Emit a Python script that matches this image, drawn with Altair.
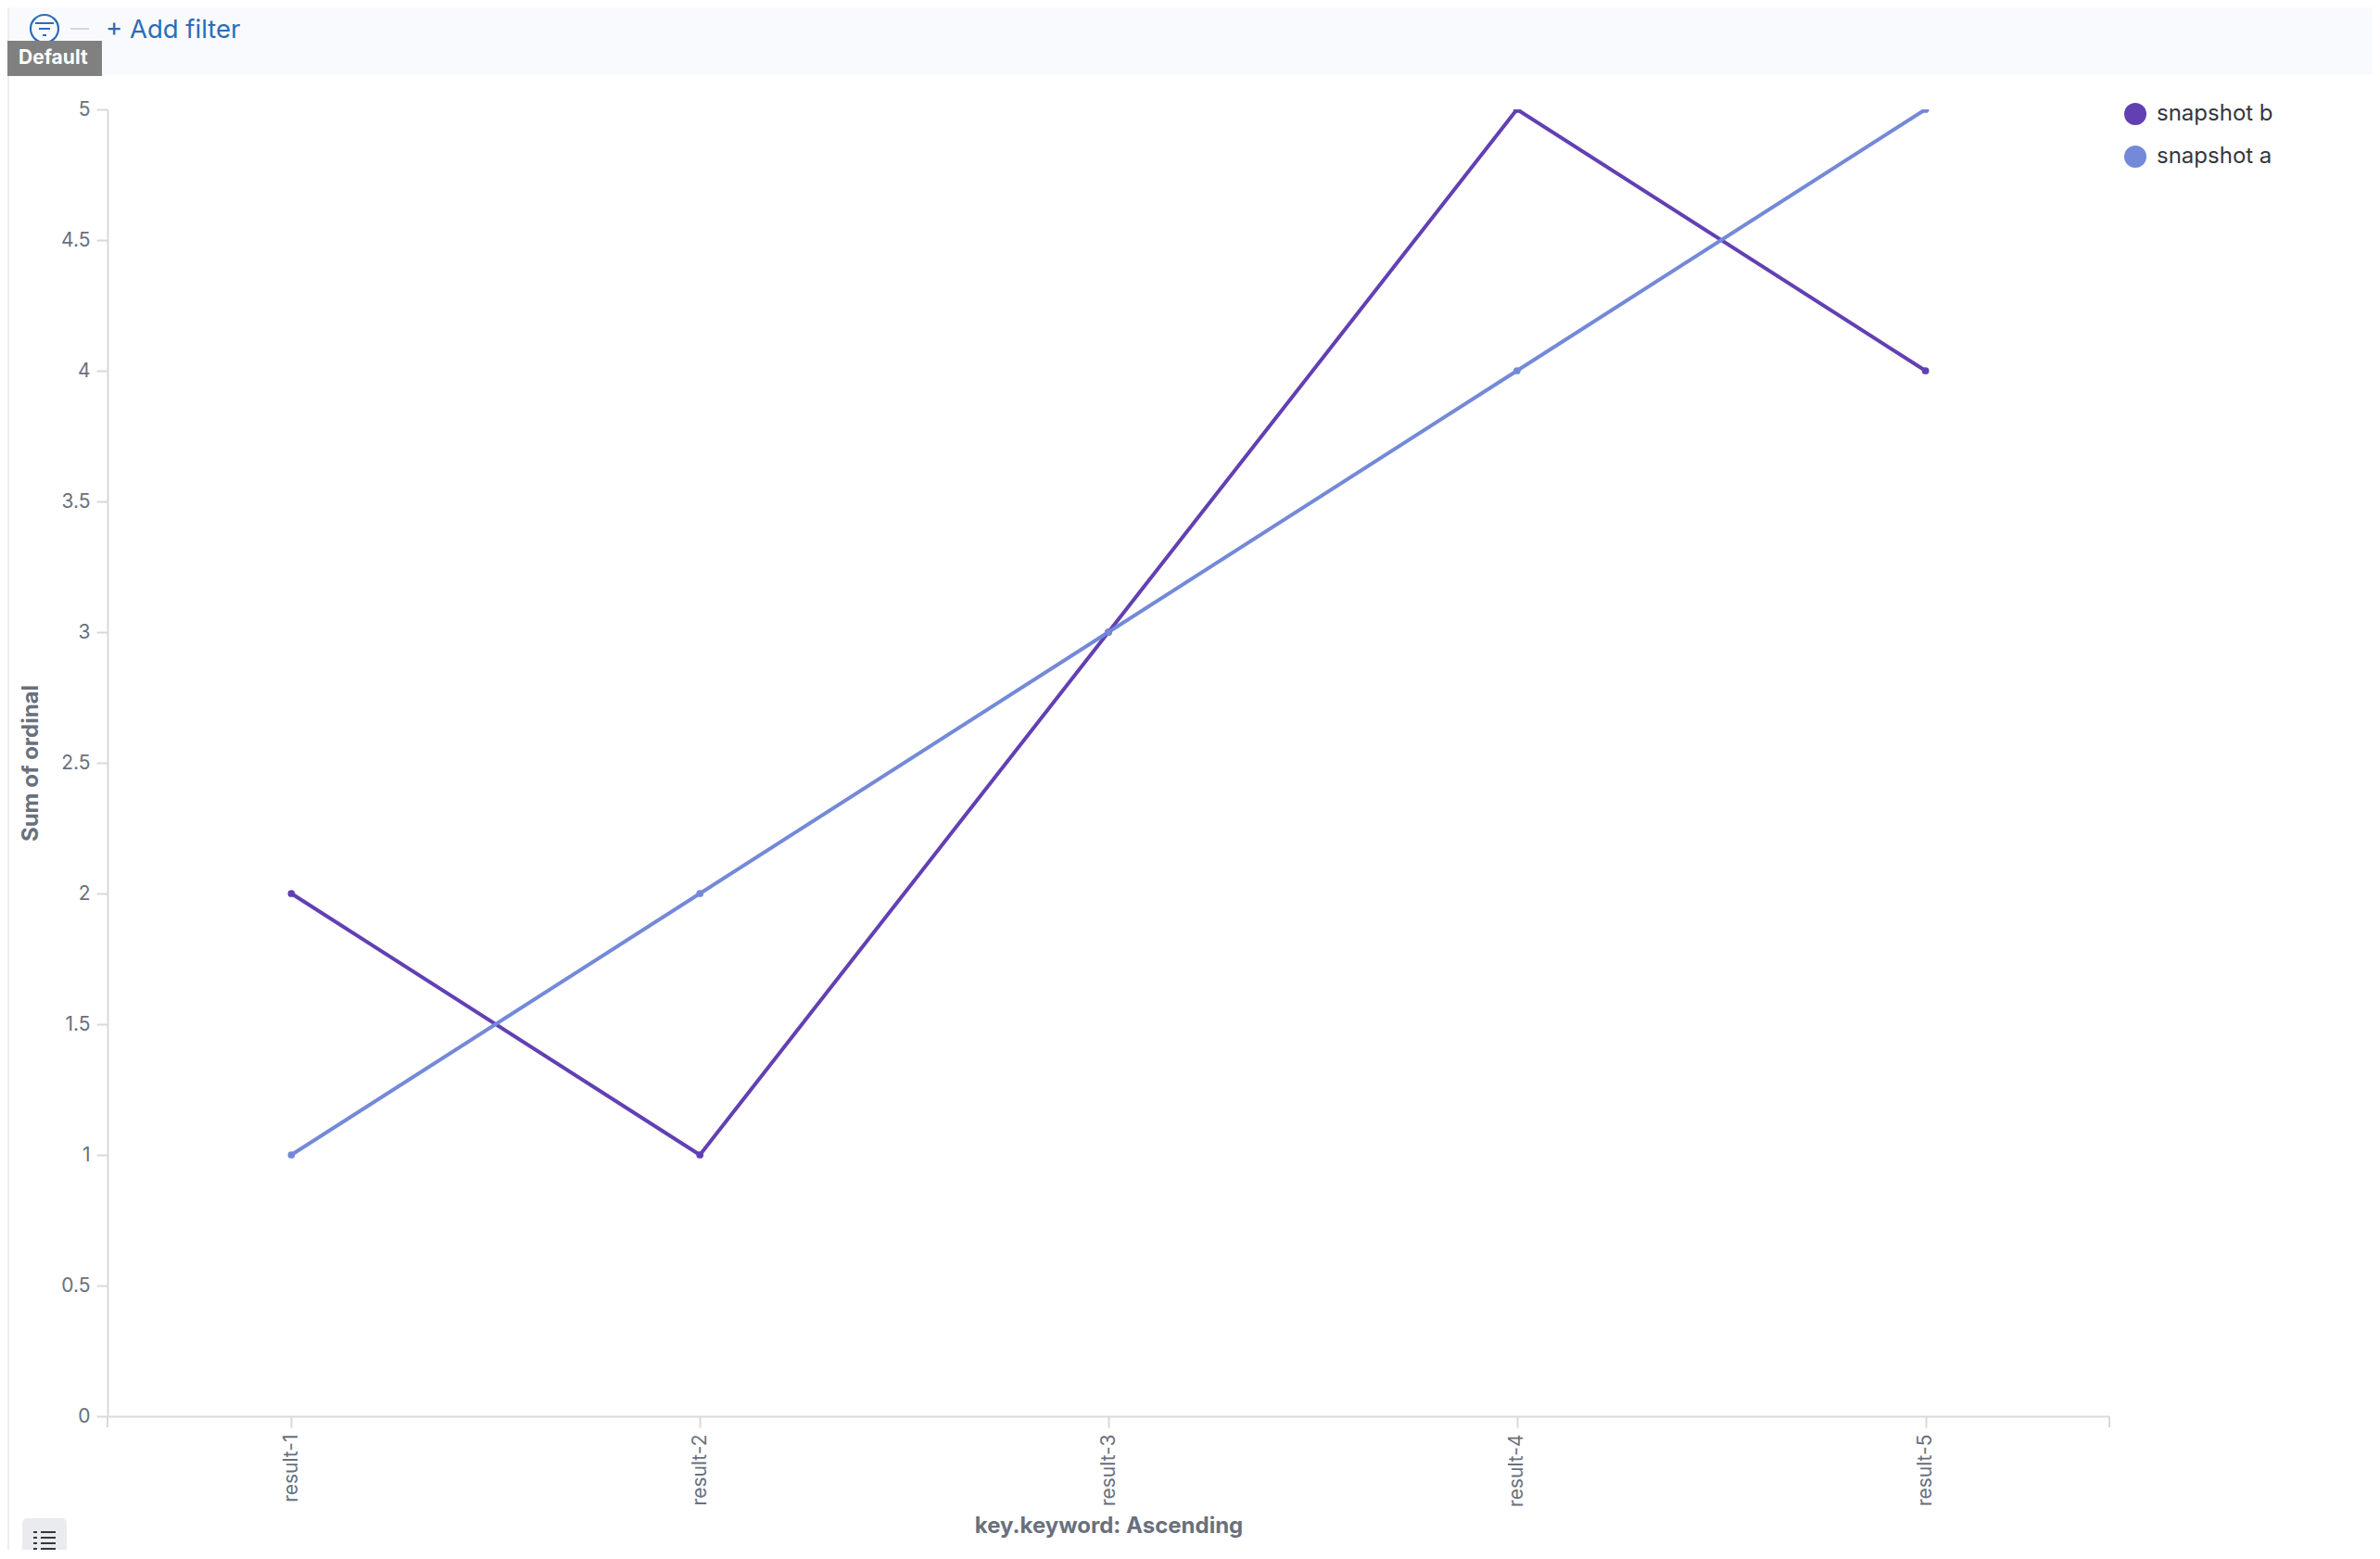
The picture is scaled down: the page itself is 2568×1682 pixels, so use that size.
import altair as alt
import pandas as pd

categories = ["result-1", "result-2", "result-3", "result-4", "result-5"]
snapshot_b = [2, 1, 3, 5, 4]
snapshot_a = [1, 2, 3, 4, 5]
series_names = ["snapshot b", "snapshot a"]
series_colors = ["#6240b3", "#7489d8"]
y_ticks = [0, 0.5, 1, 1.5, 2, 2.5, 3, 3.5, 4, 4.5, 5]

FONT = "Inter"
AXIS = "#d9d9d9"
LABEL = "#69707d"

df = pd.DataFrame(
    [{"key": c, "value": v, "series": "snapshot b"} for c, v in zip(categories, snapshot_b)]
    + [{"key": c, "value": v, "series": "snapshot a"} for c, v in zip(categories, snapshot_a)]
)

PLOT_W, PLOT_H = 2160, 1410
PAD_L, PAD_T = 108, 110


def px(x):
    return x - 116


def py(y):
    return y - 118


x_enc = alt.X(
    "key:N",
    sort=categories,
    scale=alt.Scale(type="point", domain=categories, padding=0.45),
    axis=alt.Axis(
        title="key.keyword: Ascending",
        titleFont=FONT,
        titleFontSize=24,
        titleFontWeight="bold",
        titleColor=LABEL,
        titlePadding=9,
        labelFont=FONT,
        labelFontSize=21,
        labelColor=LABEL,
        labelAngle=270,
        labelPadding=7,
        tickSize=12,
        tickWidth=2,
        tickColor=AXIS,
        domainColor=AXIS,
        domainWidth=2,
        grid=False,
    ),
)
y_enc = alt.Y(
    "value:Q",
    scale=alt.Scale(domain=[0, 5], nice=False),
    axis=alt.Axis(
        title="Sum of ordinal",
        values=y_ticks,
        format="~g",
        titleFont=FONT,
        titleFontSize=24,
        titleFontWeight="bold",
        titleColor=LABEL,
        titlePadding=20,
        labelFont=FONT,
        labelFontSize=21,
        labelColor=LABEL,
        labelPadding=7,
        tickSize=12,
        tickWidth=2,
        tickColor=AXIS,
        domainColor=AXIS,
        domainWidth=2,
        grid=False,
    ),
)
color_enc = alt.Color(
    "series:N",
    scale=alt.Scale(domain=series_names, range=series_colors),
    legend=alt.Legend(
        title=None,
        orient="none",
        legendX=2310 - 116 - 18,
        legendY=-7,
        symbolType="circle",
        symbolSize=576,
        symbolStrokeWidth=0,
        symbolOpacity=1,
        labelFont=FONT,
        labelFontSize=24,
        labelColor="#343741",
        labelOffset=11,
        rowPadding=22,
    ),
)

line = (
    alt.Chart(df)
    .mark_line(strokeWidth=4, clip=True)
    .encode(x=x_enc, y=y_enc, color=color_enc, detail="series:N", order=alt.Order("key:N"))
)
points = (
    alt.Chart(df)
    .mark_point(filled=True, size=60, opacity=1, clip=True)
    .encode(x=alt.X("key:N", sort=categories), y="value:Q", color=alt.Color("series:N", legend=None))
)

one = pd.DataFrame({"a": [0]})


def rect(x1, x2, y1, y2, color, **kw):
    return alt.Chart(one).mark_rect(color=color, **kw).encode(
        x=alt.value(px(x1)), x2=alt.value(px(x2)), y=alt.value(py(y1)), y2=alt.value(py(y2))
    )


def rule(x1, x2, y1, y2, color, width=2):
    return alt.Chart(one).mark_rule(color=color, strokeWidth=width).encode(
        x=alt.value(px(x1)), x2=alt.value(px(x2)), y=alt.value(py(y1)), y2=alt.value(py(y2))
    )


def label(text, x, y, size, color, weight="normal", align="left"):
    return alt.Chart(pd.DataFrame({"t": [text]})).mark_text(
        font=FONT, fontSize=size, color=color, fontWeight=weight, align=align, baseline="middle"
    ).encode(text="t:N", x=alt.value(px(x)), y=alt.value(py(y)))


# axis end ticks
ends = [
    rule(116, 116, 1528, 1540, AXIS),
    rule(2276, 2276, 1528, 1540, AXIS),
]

# application chrome around the chart
list_rows = [1653, 1659, 1665, 1671]
chrome = [
    rect(8, 2560, 8, 81, "#f9fafd"),
    rect(8, 10, 8, 1674, "#eceef3"),
    rule(76, 96, 31, 31, "#cfd8e6"),
    alt.Chart(one).mark_point(shape="circle", size=900, color="#2c6cb5", strokeWidth=2.2, opacity=1).encode(
        x=alt.value(px(48)), y=alt.value(py(31))
    ),
    rule(38, 58, 25, 25, "#2c6cb5"),
    rule(42, 54, 31, 31, "#2c6cb5"),
    rule(46, 50, 38, 38, "#2c6cb5"),
    label("+ Add filter", 114, 33, 27.5, "#2c6cb5"),
    rect(8, 110, 44, 82, "#808080"),
    label("Default", 20, 63, 21, "#ffffff", weight="bold"),
    rect(24, 72, 1638, 1690, "#e9ebef", cornerRadius=5),
]
for row in list_rows:
    chrome.append(rule(36, 40, row, row, "#343741"))
    chrome.append(rule(44, 60, row, row, "#343741"))

chart = (
    alt.layer(*chrome, *ends, line, points)
    .resolve_scale(color="shared")
    .properties(
        width=PLOT_W,
        height=PLOT_H,
        padding={"left": PAD_L, "top": PAD_T, "right": 284, "bottom": 144},
        autosize=alt.AutoSizeParams(type="none"),
        background="#ffffff",
    )
    .configure_view(stroke=None)
)

chart.save("out.html", embed_options={"renderer": "svg", "actions": False})
